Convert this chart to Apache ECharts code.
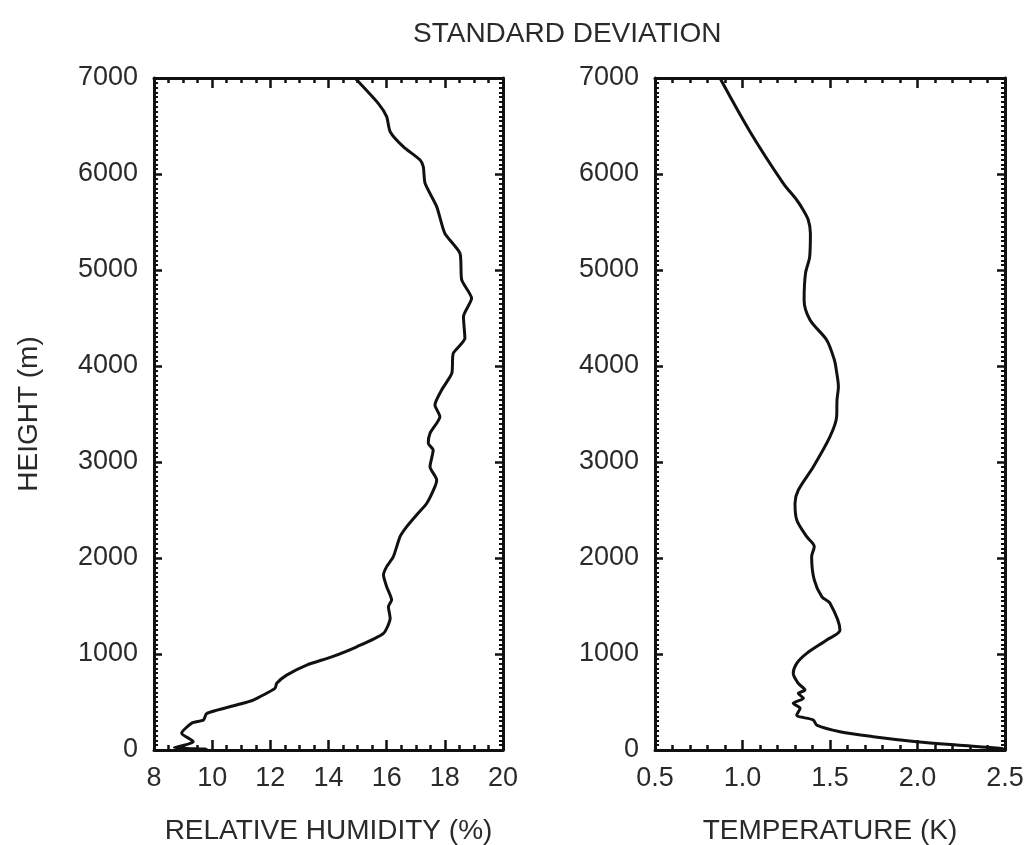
<!DOCTYPE html>
<html>
<head>
<meta charset="utf-8">
<title>Standard deviation</title>
<script src="https://cdn.jsdelivr.net/npm/echarts@6.0.0/dist/echarts.min.js"></script>
<style>
  html, body { margin: 0; padding: 0; background: #fff; }
  #chart { width: 1026px; height: 845px; }
</style>
</head>
<body>
<div id="chart"></div>
<script>
// 高度 (m) 与相对湿度标准差 (%)，自下而上
const rhHeight = [0, 8, 25, 52, 87, 175, 280, 312, 380, 469, 520, 642, 695, 780, 885, 970, 1075,
  1215, 1372, 1493, 1563, 1701, 1823, 1910, 2014, 2222, 2326, 2448, 2570, 2743, 2813, 2951,
  3125, 3195, 3299, 3472, 3594, 3750, 3924, 4132, 4288, 4514, 4705, 4896, 5174, 5382, 5660,
  5903, 6076, 6146, 6285, 6441, 6597, 6736, 7000];
const rhStd = [9.0, 9.8, 8.7, 9.07, 9.35, 8.95, 9.3, 9.7, 9.81, 10.84, 11.41, 12.16, 12.22, 12.56, 13.25, 14.11, 14.97,
  15.89, 16.12, 16.06, 16.17, 16.0, 15.89, 16.0, 16.23, 16.46, 16.69, 17.03, 17.38, 17.66, 17.72, 17.49,
  17.6, 17.43, 17.49, 17.83, 17.66, 17.89, 18.24, 18.29, 18.69, 18.64, 18.92, 18.58, 18.52, 18.0, 17.72,
  17.32, 17.26, 17.15, 16.57, 16.12, 16.0, 15.71, 14.91];

// 高度 (m) 与温度标准差 (K)
const tHeight = [0, 17, 52, 87, 139, 191, 260, 312, 365, 434, 486, 538, 590, 625, 694, 799, 903,
  1007, 1146, 1250, 1528, 1597, 1771, 2014, 2118, 2222, 2396, 2570, 2708, 2951, 3264, 3472,
  3646, 3785, 3958, 4063, 4271, 4479, 4688, 4965, 5139, 5382, 5521, 5625, 5729, 5903, 6441, 7000];
const tStd = [2.5, 2.48, 2.224, 1.995, 1.747, 1.557, 1.424, 1.405, 1.31, 1.329, 1.29, 1.348, 1.319, 1.357, 1.319, 1.29, 1.31,
  1.367, 1.481, 1.557, 1.5, 1.453, 1.41, 1.395, 1.41, 1.367, 1.31, 1.3, 1.319, 1.405, 1.5, 1.538,
  1.54, 1.548, 1.536, 1.525, 1.481, 1.386, 1.352, 1.36, 1.384, 1.388, 1.376, 1.347, 1.31, 1.233, 1.043, 0.871];

const FONT = 'Liberation Sans';
const INK = '#111';
const TEXT = '#2a2a2a';

function pairs(xs, ys) {
    return xs.map((x, i) => [x, ys[i]]);
}

// 横轴（下方带标签，上方镜像只画刻度）
function xAxisDef(gridIndex, min, max, interval, minorSplit, isTop, name) {
    return {
        type: 'value', gridIndex: gridIndex, position: isTop ? 'top' : 'bottom',
        min: min, max: max, interval: interval,
        name: isTop ? '' : name, nameLocation: 'middle', nameGap: 67,
        nameTextStyle: { fontFamily: FONT, fontSize: 28, color: TEXT },
        axisLine: { show: true, onZero: false, lineStyle: { color: INK, width: 3 } },
        axisTick: { show: true, inside: true, length: 10, lineStyle: { color: INK, width: 2.5 } },
        minorTick: { show: true, splitNumber: minorSplit, length: 5, lineStyle: { color: INK, width: 2.5 } },
        axisLabel: {
            show: !isTop, margin: 15, fontFamily: FONT, fontSize: 27, color: TEXT,
            formatter: v => interval < 1 ? v.toFixed(1) : String(v)
        },
        splitLine: { show: false }
    };
}

// 纵轴（左侧带标签，右侧镜像只画刻度）
function yAxisDef(gridIndex, isRight, withName) {
    return {
        type: 'value', gridIndex: gridIndex, position: isRight ? 'right' : 'left',
        min: 0, max: 7000, interval: 1000,
        name: withName ? 'HEIGHT (m)' : '', nameLocation: 'middle', nameGap: 111,
        nameTextStyle: { fontFamily: FONT, fontSize: 28, color: TEXT },
        axisLine: { show: true, onZero: false, lineStyle: { color: INK, width: 3 } },
        axisTick: { show: true, inside: true, length: 8, lineStyle: { color: INK, width: 2.5 } },
        minorTick: { show: true, splitNumber: 20, length: 4, lineStyle: { color: INK, width: 2 } },
        axisLabel: {
            show: !isRight, margin: 16, fontFamily: FONT, fontSize: 27, color: TEXT,
            formatter: v => String(v)
        },
        splitLine: { show: false }
    };
}

const chart = echarts.init(document.getElementById('chart'));

chart.setOption({
    backgroundColor: '#fff',
    animation: false,
    title: {
        text: 'STANDARD DEVIATION', left: 413, top: 20, padding: 0,
        textStyle: { fontFamily: FONT, fontSize: 28, fontWeight: 'normal', color: TEXT }
    },
    grid: [
        { left: 154, right: 523, top: 78, bottom: 95, containLabel: false, outerBoundsMode: 'none' },
        { left: 655, right: 21, top: 78, bottom: 95, containLabel: false, outerBoundsMode: 'none' }
    ],
    xAxis: [
        xAxisDef(0, 8, 20, 2, 4, false, 'RELATIVE HUMIDITY (%)'),
        xAxisDef(0, 8, 20, 2, 4, true, ''),
        xAxisDef(1, 0.5, 2.5, 0.5, 5, false, 'TEMPERATURE (K)'),
        xAxisDef(1, 0.5, 2.5, 0.5, 5, true, '')
    ],
    yAxis: [
        yAxisDef(0, false, true),
        yAxisDef(0, true, false),
        yAxisDef(1, false, false),
        yAxisDef(1, true, false)
    ],
    series: [
        {
            type: 'line', xAxisIndex: 0, yAxisIndex: 0,
            data: pairs(rhStd, rhHeight),
            showSymbol: false, smooth: 0.2,
            lineStyle: { color: INK, width: 3 }
        },
        {
            type: 'line', xAxisIndex: 2, yAxisIndex: 2,
            data: pairs(tStd, tHeight),
            showSymbol: false, smooth: 0.3,
            lineStyle: { color: INK, width: 3 }
        }
    ]
});
</script>
</body>
</html>
